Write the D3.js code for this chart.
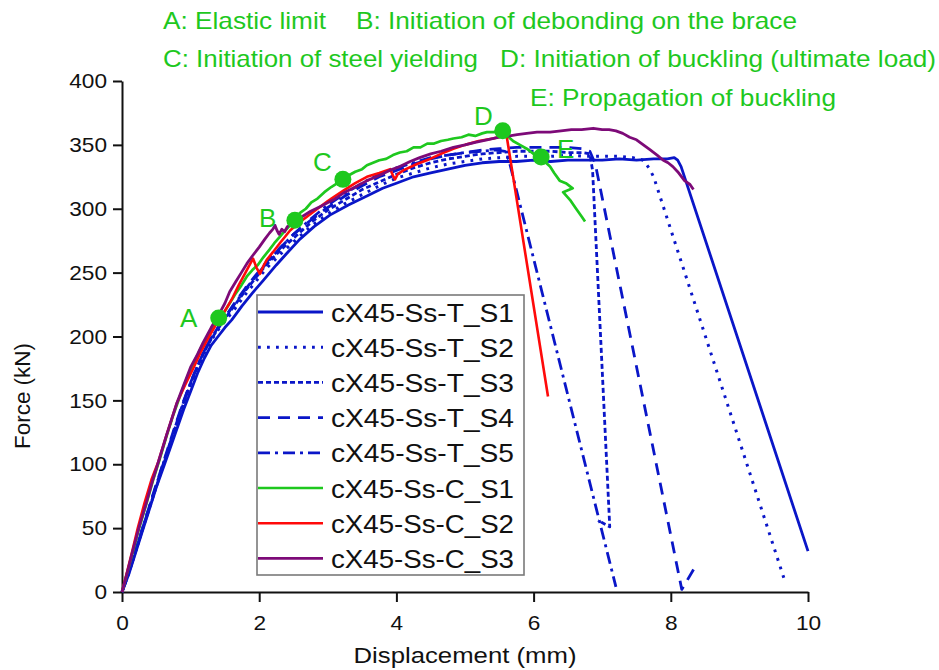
<!DOCTYPE html>
<html>
<head>
<meta charset="utf-8">
<script src="https://cdn.jsdelivr.net/npm/d3@7/dist/d3.min.js"></script>
<style>
  html, body { margin: 0; padding: 0; background: #fff; }
  svg { display: block; font-family: Arial, "Liberation Sans", sans-serif; }
</style>
</head>
<body>
<svg id="chart" width="939" height="670"></svg>
<script>
// Force–displacement curves of the cX45-Ss specimens (tension T and compression C)
const xTicks = [0, 2, 4, 6, 8, 10];
const yTicks = [0, 50, 100, 150, 200, 250, 300, 350, 400];

const seriesNames = ["cX45-Ss-T_S1", "cX45-Ss-T_S2", "cX45-Ss-T_S3", "cX45-Ss-T_S4",
                     "cX45-Ss-T_S5", "cX45-Ss-C_S1", "cX45-Ss-C_S2", "cX45-Ss-C_S3"];

// [displacement (mm), force (kN)]
const tS1 = [[0,0],[0.1,14],[0.2,31],[0.3,48],[0.4,65],[0.5,82],[0.62,100],[0.75,120],[0.9,143],[1.0,157],
  [1.1,171],[1.2,183],[1.3,193],[1.4,200],[1.5,207],[1.6,213],[1.75,224],[1.9,234],[2.06,244],[2.25,256],
  [2.4,265],[2.59,276],[2.8,286],[3.03,295],[3.3,303],[3.57,310],[3.8,316],[4.0,320],[4.25,325],[4.5,328],
  [4.75,331],[5.0,334],[5.25,336],[5.5,337],[5.75,337],[6.0,338],[6.25,337],[6.5,338],[6.75,338],[7.0,338],
  [7.25,339],[7.5,338],[7.75,339],[7.95,339],[8.05,340],[8.1,338],[8.15,333],[10.0,32]];

const tS2 = [[0,0],[0.1,16],[0.2,33],[0.3,50],[0.45,75],[0.6,100],[0.75,124],[0.88,146],[1.0,163],[1.1,176],
  [1.2,187],[1.3,197],[1.4,205],[1.5,212],[1.65,222],[1.8,233],[1.95,243],[2.1,253],[2.3,264],[2.5,274],
  [2.75,286],[3.0,296],[3.25,304],[3.5,311],[3.75,318],[4.0,324],[4.25,328],[4.5,332],[4.75,335],[5.0,337],
  [5.25,339],[5.5,340],[5.75,341],[6.0,341],[6.25,341],[6.5,342],[6.75,341],[7.0,341],[7.25,341],[7.45,340],
  [7.6,338],[7.68,332],[7.75,325],[9.66,9]];

const tS3 = [[0,0],[0.1,15],[0.2,32],[0.3,49],[0.45,74],[0.6,99],[0.75,123],[0.88,145],[1.0,163],[1.1,176],
  [1.2,188],[1.3,198],[1.4,206],[1.5,214],[1.65,225],[1.8,236],[1.95,246],[2.1,256],[2.3,267],[2.5,277],
  [2.75,289],[3.0,299],[3.25,307],[3.5,315],[3.75,321],[4.0,327],[4.25,332],[4.5,336],[4.75,339],[5.0,341],
  [5.25,343],[5.5,344],[5.75,345],[6.0,345],[6.25,345],[6.5,344],[6.7,344],[6.82,343],[6.86,330],[7.11,51],
  [6.94,56]];

const tS4 = [[0,0],[0.1,16],[0.2,33],[0.3,50],[0.45,76],[0.6,101],[0.75,126],[0.88,147],[1.0,164],[1.1,177],
  [1.2,189],[1.3,199],[1.4,207],[1.5,215],[1.65,227],[1.8,238],[1.95,248],[2.1,258],[2.3,269],[2.5,280],
  [2.75,291],[3.0,301],[3.25,310],[3.5,318],[3.75,325],[4.0,330],[4.25,335],[4.5,339],[4.75,342],[5.0,344],
  [5.25,346],[5.5,347],[5.75,348],[6.0,348],[6.25,348],[6.5,348],[6.7,347],[6.82,345],[6.9,335],[8.16,2],
  [8.38,22]];

const tS5 = [[0,0],[0.1,15],[0.2,32],[0.3,50],[0.45,75],[0.6,100],[0.75,125],[0.88,146],[1.0,164],[1.1,177],
  [1.2,189],[1.3,199],[1.4,207],[1.5,215],[1.65,226],[1.8,237],[1.95,247],[2.1,257],[2.3,269],[2.5,280],
  [2.75,292],[3.0,303],[3.25,312],[3.5,320],[3.75,327],[4.0,332],[4.25,336],[4.5,340],[4.75,342],[5.0,344],
  [5.25,345],[5.45,346],[5.58,345],[5.64,338],[7.2,4]];

const cS1 = [[0,0],[0.08,16],[0.15,30],[0.25,50],[0.35,68],[0.45,87],[0.55,104],[0.65,122],[0.75,139],[0.85,154],
  [0.95,168],[1.05,180],[1.15,191],[1.25,200],[1.33,207],[1.41,214],[1.5,220],[1.57,226],[1.65,233],[1.74,240],
  [1.82,247],[1.9,252],[1.98,256],[2.06,262],[2.15,268],[2.22,273],[2.3,278],[2.38,283],[2.45,287],[2.52,292],
  [2.6,297],[2.68,300],[2.76,305],[2.85,308],[2.95,313],[3.05,317],[3.14,320],[3.22,323],[3.3,326],[3.4,329],
  [3.5,331],[3.57,334],[3.66,336],[3.75,338],[3.85,339],[3.95,342],[4.05,344],[4.15,345],[4.25,348],[4.35,348],
  [4.45,351],[4.55,351],[4.65,353],[4.75,354],[4.83,355],[4.95,356],[5.05,358],[5.15,357],[5.25,359],[5.32,360],
  [5.42,360],[5.5,361],[5.55,361],[5.62,357],[5.7,353],[5.8,350],[5.9,347],[6.0,343],[6.11,340],[6.18,336],
  [6.24,333],[6.3,328],[6.38,322],[6.47,320],[6.57,316],[6.43,313],[6.53,307],[6.62,300],[6.7,294],[6.75,290]];

const cS2 = [[0,0],[0.08,17],[0.15,32],[0.23,50],[0.33,70],[0.43,88],[0.53,102],[0.65,123],[0.8,148],[0.92,162],
  [1.03,174],[1.15,188],[1.28,201],[1.41,213],[1.5,220],[1.6,229],[1.7,240],[1.8,250],[1.87,257],[1.91,261],
  [1.96,254],[2.01,249],[2.06,255],[2.11,260],[2.2,266],[2.3,273],[2.45,283],[2.58,289],[2.7,294],[2.85,300],
  [3.0,306],[3.08,309],[3.25,315],[3.4,320],[3.57,325],[3.75,328],[3.91,331],[3.95,326],[3.98,323],[4.02,327],
  [4.1,330],[4.3,335],[4.49,339],[4.65,343],[4.83,347],[5.0,350],[5.2,353],[5.41,355],[5.55,357],[5.61,356],
  [6.21,153]];

const cS3 = [[0,0],[0.08,16],[0.16,33],[0.25,51],[0.35,69],[0.45,88],[0.52,100],[0.65,123],[0.8,148],[0.9,162],
  [1.0,176],[1.1,186],[1.18,195],[1.3,207],[1.4,216],[1.5,226],[1.57,235],[1.66,243],[1.74,250],[1.82,257],
  [1.9,263],[2.0,270],[2.08,276],[2.15,281],[2.2,284],[2.23,287],[2.26,283],[2.29,280],[2.33,284],[2.37,282],
  [2.41,286],[2.5,289],[2.6,293],[2.75,298],[2.9,302],[3.08,307],[3.25,313],[3.4,317],[3.57,322],[3.75,326],
  [3.9,330],[4.05,333],[4.2,337],[4.34,340],[4.5,343],[4.65,345],[4.83,348],[5.0,350],[5.15,352],[5.32,354],
  [5.5,356],[5.65,357],[5.76,358],[5.9,359],[6.05,360],[6.24,360],[6.4,361],[6.55,362],[6.7,362],[6.87,363],
  [7.0,362],[7.1,362],[7.2,361],[7.3,359],[7.4,356],[7.5,354],[7.6,350],[7.7,346],[7.8,342],[7.89,338],
  [7.96,336],[8.03,333],[8.1,329],[8.2,322],[8.28,319],[8.33,315]];

// Characteristic points on the compression curve
const markerLabels = ["A", "B", "C", "D", "E"];
const markerX = [1.41, 2.52, 3.22, 5.55, 6.11];
const markerY = [214.5, 291, 323, 361, 340.5];

const notes = ["A: Elastic limit", "B: Initiation of debonding on the brace",
  "C: Initiation of steel yielding", "D: Initiation of buckling (ultimate load)",
  "E: Propagation of buckling"];

const seriesData = [tS1, tS2, tS3, tS4, tS5, cS1, cS2, cS3];

const blue = "#0a16c8", green = "#1ec81e", red = "#ff0a0a", purple = "#7d0a78";
const styles = [
  { color: blue, dash: null, w: 2.8 },
  { color: blue, dash: "2.8,6.2", w: 3 },
  { color: blue, dash: "5,3", w: 2.8 },
  { color: blue, dash: "12,8", w: 2.8 },
  { color: blue, dash: "12,5,3,5", w: 2.8 },
  { color: green, dash: null, w: 2.7 },
  { color: red, dash: null, w: 2.6 },
  { color: purple, dash: null, w: 2.8 }
];

const svg = d3.select("#chart");
const x = d3.scaleLinear().domain([0, 10]).range([122, 808]);
const y = d3.scaleLinear().domain([0, 400]).range([592, 81]);
const axisColor = "#111";

// Axes
const gx = svg.append("g").attr("transform", "translate(0,592)")
  .call(d3.axisBottom(x).tickValues(xTicks).tickSize(10).tickSizeOuter(0).tickPadding(8));
const gy = svg.append("g").attr("transform", "translate(122,0)")
  .call(d3.axisLeft(y).tickValues(yTicks).tickSize(9).tickSizeOuter(0).tickPadding(6));
[gx, gy].forEach(g => {
  g.select(".domain").attr("stroke", axisColor).attr("stroke-width", 2);
  g.selectAll(".tick line").attr("stroke", axisColor).attr("stroke-width", 2);
  g.selectAll(".tick text").attr("fill", "#111").style("font-size", "21px")
    .style("font-family", "Arial, 'Liberation Sans', sans-serif")
    .attr("lengthAdjust", "spacingAndGlyphs")
    .attr("textLength", function () { return this.textContent.length * 12.6; });
});
gx.selectAll(".tick text").attr("dy", "0.95em");

// Axis titles
svg.append("text").attr("x", 465).attr("y", 663).attr("text-anchor", "middle")
  .attr("textLength", 223).attr("lengthAdjust", "spacingAndGlyphs")
  .style("font-size", "22px").attr("fill", "#111").text("Displacement (mm)");
svg.append("text").attr("transform", "translate(30,396) rotate(-90)").attr("text-anchor", "middle")
  .attr("textLength", 106).attr("lengthAdjust", "spacingAndGlyphs")
  .style("font-size", "22px").attr("fill", "#111").text("Force (kN)");

// Curves
const line = d3.line().x(d => x(d[0])).y(d => y(d[1])).curve(d3.curveLinear);
svg.append("g").selectAll("path").data(seriesData).join("path")
  .attr("d", d => line(d))
  .attr("fill", "none")
  .attr("stroke", (d, i) => styles[i].color)
  .attr("stroke-width", (d, i) => styles[i].w)
  .attr("stroke-dasharray", (d, i) => styles[i].dash)
  .attr("stroke-linejoin", "round");

// Legend
const lg = svg.append("g");
lg.append("rect").attr("x", 257).attr("y", 295).attr("width", 267).attr("height", 280)
  .attr("fill", "#fff").attr("stroke", "#7a7a7a").attr("stroke-width", 1.6);
seriesNames.forEach((name, i) => {
  const ry = 312 + i * 35.2;
  lg.append("line").attr("x1", 258).attr("x2", 323).attr("y1", ry).attr("y2", ry)
    .attr("stroke", styles[i].color).attr("stroke-width", styles[i].w)
    .attr("stroke-dasharray", styles[i].dash);
  lg.append("text").attr("x", 331).attr("y", ry + 9.5)
    .attr("textLength", 183).attr("lengthAdjust", "spacingAndGlyphs")
    .style("font-size", "25px").attr("fill", "#111").text(name);
});

// Characteristic points and their letters
const mg = svg.append("g");
markerLabels.forEach((lab, i) => {
  mg.append("circle").attr("cx", x(markerX[i])).attr("cy", y(markerY[i])).attr("r", 8.5).attr("fill", green);
});
const letterPos = [[180, 327], [259, 227], [313, 171], [474, 125], [557, 158]];
markerLabels.forEach((lab, i) => {
  mg.append("text").attr("x", letterPos[i][0]).attr("y", letterPos[i][1])
    .style("font-size", "26px").attr("fill", green).text(lab);
});

// Point descriptions
const notePos = [[163, 29, 163], [356, 29, 441], [163, 67, 315], [500, 67, 436], [530, 106, 306]];
notes.forEach((t, i) => {
  svg.append("text").attr("x", notePos[i][0]).attr("y", notePos[i][1])
    .attr("textLength", notePos[i][2]).attr("lengthAdjust", "spacingAndGlyphs")
    .style("font-size", "24px").attr("fill", green).text(t);
});
</script>
</body>
</html>
